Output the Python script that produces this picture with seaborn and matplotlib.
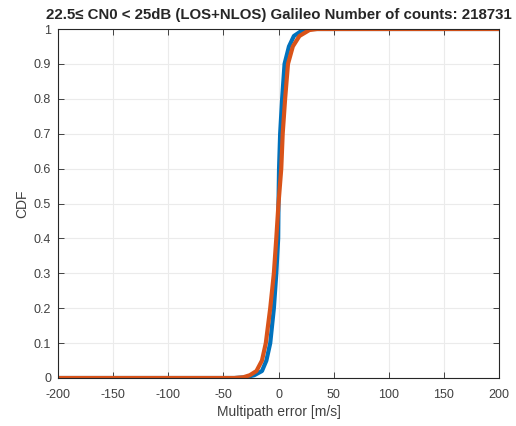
import numpy as np
import pandas as pd
import matplotlib
matplotlib.use("Agg")
import matplotlib.pyplot as plt
import seaborn as sns

# CDF
blue_x = [-200, -40, -30, -22, -15, -11, -7.5, -4.2, -2, -0.3, 0, 0.5, 1.5, 3.3, 5.5, 9.5, 14, 22, 30, 200]
blue_y = [0.0, 0.0, 0.002, 0.008, 0.02, 0.05, 0.10, 0.20, 0.30, 0.40, 0.50, 0.60, 0.70, 0.80, 0.90, 0.95, 0.98, 0.997, 1.0, 1.0]
orange_x = [-200, -40, -32, -26, -20, -15, -11.5, -7.5, -4.2, -2, 0, 2.5, 3.8, 6, 8.6, 13, 19, 28, 35, 200]
orange_y = [0.0, 0.0, 0.002, 0.008, 0.02, 0.05, 0.10, 0.20, 0.30, 0.40, 0.50, 0.60, 0.70, 0.80, 0.90, 0.95, 0.98, 0.997, 1.0, 1.0]

title = "22.5\u2264 CN0 < 25dB (LOS+NLOS) Galileo Number of counts: 218731"
xticks = [-200, -150, -100, -50, 0, 50, 100, 150, 200]
yticks = [0, 0.1, 0.2, 0.3, 0.4, 0.5, 0.6, 0.7, 0.8, 0.9, 1]
ytick_labels = ["0", "0.1", "0.2", "0.3", "0.4", "0.5", "0.6", "0.7", "0.8", "0.9", "1"]

df = pd.concat([
    pd.DataFrame({"x": blue_x, "cdf": blue_y, "s": "LOS+NLOS A"}),
    pd.DataFrame({"x": orange_x, "cdf": orange_y, "s": "LOS+NLOS B"}),
])

sns.set_theme(style="white")
plt.rcParams["font.family"] = ["Liberation Sans", "DejaVu Sans"]

fig = plt.figure(figsize=(5.16, 4.26), dpi=100)
ax = fig.add_axes([58/516, 1-378/426, (499-58)/516, (378-29)/426])

sns.lineplot(data=df, x="x", y="cdf", hue="s", palette=["#0072BD", "#D95319"],
             linewidth=3, ax=ax, legend=False, sort=False)

ax.set_xlim(-200, 200)
ax.set_ylim(0, 1)
ax.set_xticks(xticks)
ax.set_xticklabels([str(t) for t in xticks])
ax.set_yticks(yticks)
ax.set_yticklabels(ytick_labels)
ax.grid(True, color="#ebebeb", linewidth=0.8)
ax.set_axisbelow(True)
for sp in ax.spines.values():
    sp.set_color("#262626")
    sp.set_linewidth(0.8)
ax.tick_params(direction="in", length=4, width=0.6, colors="#262626",
               labelsize=9, labelcolor="#404040", top=True, right=True, bottom=True, left=True,
               labeltop=False, labelright=False)
ax.tick_params(axis="x", pad=8)
ax.tick_params(axis="y", pad=5)
ax.set_xlabel("Multipath error [m/s]", fontsize=10, color="#404040", labelpad=3)
ax.set_ylabel("CDF", fontsize=10, color="#404040", labelpad=3)
ax.set_title(title, fontsize=10.8, fontweight="bold", pad=7)

fig.savefig("out.png", dpi=100)
